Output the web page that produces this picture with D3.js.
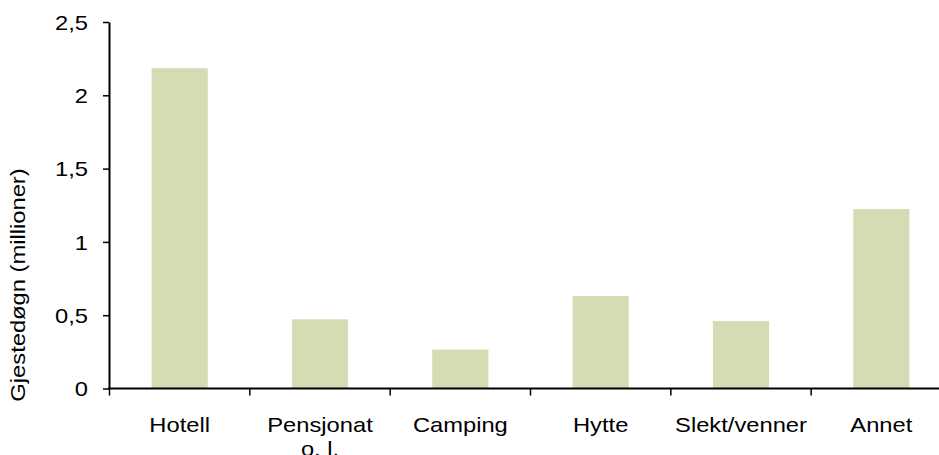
<!DOCTYPE html>
<html>
<head>
<meta charset="utf-8">
<script src="https://cdn.jsdelivr.net/npm/d3@7"></script>
<style>
  html, body { margin: 0; padding: 0; background: #fff; }
  svg { display: block; }
  text { font-family: "Liberation Sans", Arial, sans-serif; fill: #000; }
</style>
</head>
<body>
<svg id="chart" width="939" height="455"></svg>
<script>
const categories = ["Hotell", "Pensjonat\no. l.", "Camping", "Hytte", "Slekt/venner", "Annet"];
const values = [2.185, 0.472, 0.265, 0.631, 0.46, 1.224];
const yTicks = [0, 0.5, 1, 1.5, 2, 2.5];
const yTitle = "Gjestedøgn (millioner)";

const svg = d3.select("#chart");
const x = d3.scaleBand().domain(categories).range([109.5, 951.5]).padding(0);
const y = d3.scaleLinear().domain([0, 2.5]).range([388.5, 22]);
const fmt = v => String(v).replace(".", ",");
const FS = 21;
const SX = 1.13;

// bars
const barFrac = 0.4;
svg.append("g").selectAll("rect").data(categories).join("rect")
  .attr("x", d => x(d) + x.bandwidth() * (1 - barFrac) / 2)
  .attr("width", x.bandwidth() * barFrac)
  .attr("y", (d, i) => y(values[i]))
  .attr("height", (d, i) => y(0) - y(values[i]))
  .attr("fill", "#d5dcb3");

// y axis
const yAxis = svg.append("g").attr("transform", "translate(109,0)")
  .call(d3.axisLeft(y).tickValues(yTicks).tickFormat(fmt).tickSize(6).tickSizeOuter(0));
yAxis.select(".domain").attr("stroke", "#000").attr("stroke-width", 2);
yAxis.selectAll(".tick line").attr("stroke", "#000").attr("stroke-width", 1.5);
yAxis.selectAll(".tick text").attr("font-size", FS).attr("x", -21 / SX).attr("dy", "0.35em")
  .attr("transform", `scale(${SX},1)`)
  .style("font-family", "'Liberation Sans', Arial, sans-serif").attr("fill", "#000");

// x axis line + ticks at band boundaries
const xg = svg.append("g").attr("transform", `translate(0,${y(0)})`);
xg.append("line").attr("x1", 108).attr("x2", 951.5).attr("stroke", "#000").attr("stroke-width", 2);
const bounds = categories.map(c => x(c)).concat([x.range()[1]]);
xg.selectAll("line.t").data(bounds).join("line").attr("class", "t")
  .attr("x1", d => d).attr("x2", d => d).attr("y1", 0).attr("y2", 7)
  .attr("stroke", "#000").attr("stroke-width", 1.5);

// x labels
const lab = svg.append("g");
categories.forEach(c => {
  const lines = c.split("\n");
  const g = lab.append("g")
    .attr("transform", `translate(${x(c) + x.bandwidth() / 2},432) scale(${SX},1)`);
  const t = g.append("text").attr("text-anchor", "middle").attr("font-size", FS)
    .attr("x", 0).attr("y", 0);
  lines.forEach((l, i) => t.append("tspan").attr("x", 0)
    .attr("dy", i === 0 ? 0 : 24).text(l));
});

// y title
svg.append("text").attr("transform", `translate(25,285) rotate(-90) scale(${SX},1)`)
  .attr("text-anchor", "middle").attr("font-size", FS).text(yTitle);
</script>
</body>
</html>
